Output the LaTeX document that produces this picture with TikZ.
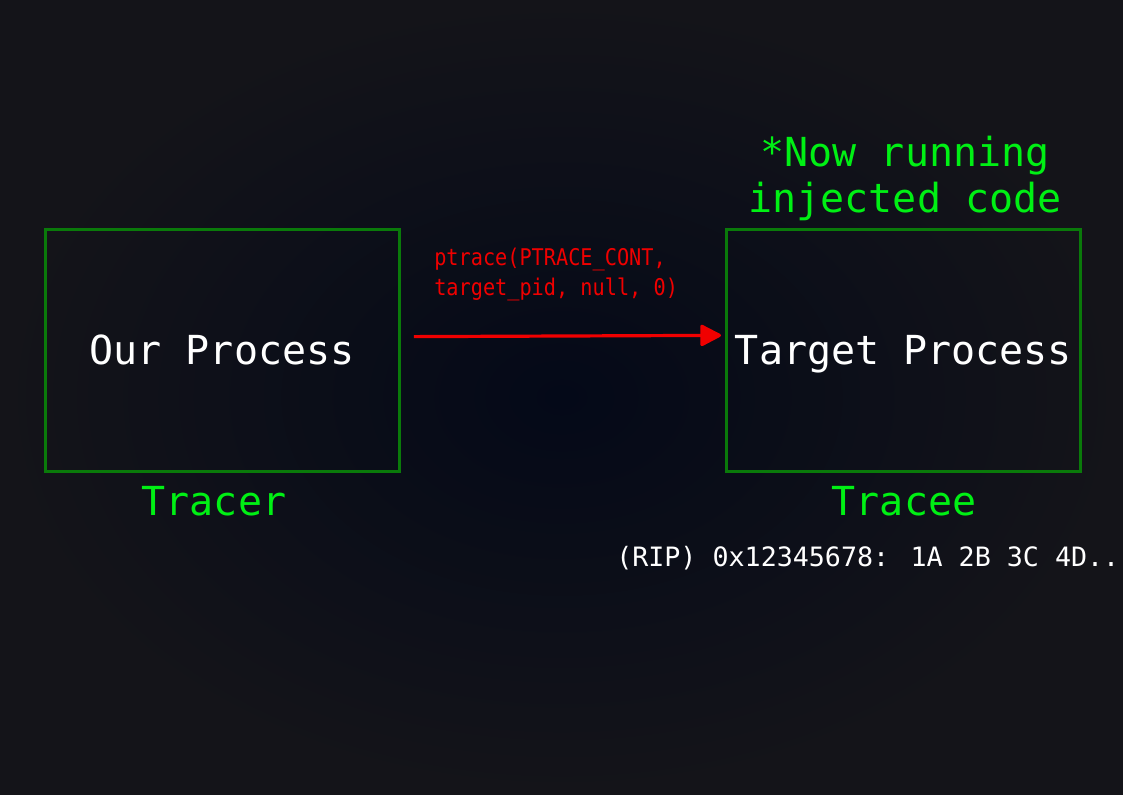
\documentclass[tikz,border=0pt]{standalone}
\usepackage{fontspec}
\usepackage{xcolor}
\setmainfont{DejaVu Sans Mono}
\newfontfamily\condmono[FakeStretch=0.88]{DejaVu Sans Mono}
\usetikzlibrary{positioning, arrows.meta}

\definecolor{bgout}{RGB}{20,20,25}
\definecolor{bgin}{RGB}{4,9,24}
\definecolor{boxgreen}{RGB}{10,122,10}
\definecolor{labelgreen}{RGB}{0,240,20}
\definecolor{callred}{RGB}{240,0,0}

\tikzset{
    procbox/.style = {draw = boxgreen, line width = 2.25pt, minimum width = 265.5pt, minimum height = 181.5pt,
                      text = white, font = \fontsize{30}{36}\selectfont, inner sep = 0pt, text depth = 0pt},
    rolelabel/.style = {text = labelgreen, font = \fontsize{30}{34.5}\selectfont, anchor = base, inner sep = 0pt},
    callarrow/.style = {draw = callred, line width = 2.4pt, -{Triangle[round, length = 17pt, width = 17pt]}}
}

\begin{document}
\begin{tikzpicture}[x = 0.75pt, y = -0.75pt]
            \shade[inner color = bgin, outer color = bgout] (0, 0) rectangle (1123, 794);
            \useasboundingbox (0, 0) rectangle (1123, 794);

            \node[procbox] (ourproc) at (222, 350) {Our Process};
            \node[procbox] (tgtproc) at (903.5, 350) {Target Process};

            \node[rolelabel] (tracer) at (214, 515) {Tracer};
            \node[rolelabel] (tracee) at (904, 515) {Tracee};
            % base anchor sits on the last line
            \node[rolelabel, align = center] (injected) at (905, 212) {*Now running\\injected code};

            \node[anchor = base west, inner sep = 0pt, text = callred, align = left,
                  font = \condmono\fontsize{17.25}{22.5}\selectfont] (callargs) at (434, 295) {ptrace(PTRACE\_CONT,\\target\_pid, null, 0)};
            \draw[callarrow, shorten <= 10pt, shorten >= 3pt] ([yshift = 10pt]ourproc.east) -- ([yshift = 11pt]tgtproc.west);

            \node[anchor = base west, inner sep = 0pt, text = white, font = \fontsize{20}{24}\selectfont] (ripline) at (616, 566) {(RIP) 0x12345678: 1A 2B 3C 4D...};
        \end{tikzpicture}
\end{document}
